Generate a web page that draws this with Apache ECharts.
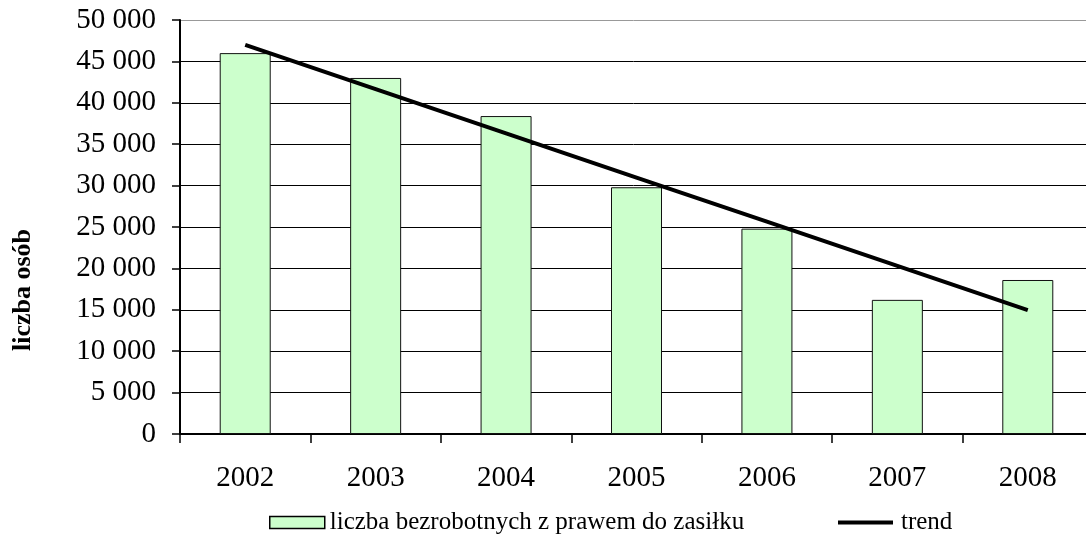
<!DOCTYPE html>
<html><head><meta charset="utf-8">
<script src="https://cdn.jsdelivr.net/npm/echarts@6/dist/echarts.min.js"></script>
<style>html,body{margin:0;padding:0;background:#fff}#c{width:1086px;height:536px}</style>
</head><body><div id="c"></div>
<script>
var categories = ['2002','2003','2004','2005','2006','2007','2008'];
var unemployed = [46000, 43000, 38400, 29800, 24800, 16200, 18600];
var trend = [47000, 41650, 36300, 30970, 25640, 20300, 14960];
var yTicks = {min: 0, max: 50000, interval: 5000};
var seriesNames = ['liczba bezrobotnych z prawem do zasiłku', 'trend'];
var yTitle = 'liczba osób';

var FONT = 'Liberation Serif';
function fmt(v){ return String(v).replace(/\B(?=(\d{3})+(?!\d))/g, ' '); }
var gridColors = [];
for (var i = 0; i < 10; i++) gridColors.push('#000');
gridColors.push('#999');

var chart = echarts.init(document.getElementById('c'), null, {renderer: 'canvas'});
chart.setOption({
  animation: false,
  backgroundColor: '#fff',
  grid: {left: 180, top: 20, width: 913, height: 414, containLabel: false, outerBoundsMode: 'none'},
  legend: [{
    data: [{name: seriesNames[0], icon: 'rect'}], left: 264, top: 505, itemWidth: 55, itemHeight: 12, itemGap: 8,
    itemStyle: {borderColor: '#000', borderWidth: 1.5},
    textStyle: {fontFamily: FONT, fontSize: 25, color: '#000'}
  }, {
    data: [{name: seriesNames[1], icon: 'rect'}], left: 833, top: 505, itemWidth: 55, itemHeight: 4, itemGap: 9,
    textStyle: {fontFamily: FONT, fontSize: 25, color: '#000', padding: [0, 0, 0, 3]}
  }],
  xAxis: {
    type: 'category', data: categories, boundaryGap: true,
    axisLine: {lineStyle: {color: '#000', width: 2}},
    axisTick: {show: true, length: 9, lineStyle: {color: '#000', width: 1.5}},
    axisLabel: {fontFamily: FONT, fontSize: 29, color: '#000', margin: 30},
    splitLine: {show: false}
  },
  yAxis: {
    type: 'value', min: yTicks.min, max: yTicks.max, interval: yTicks.interval,
    name: yTitle, nameLocation: 'middle', nameGap: 144,
    nameTextStyle: {fontFamily: FONT, fontSize: 26, fontWeight: 'bold', color: '#000', padding: [0, 126, 0, 0]},
    axisLine: {show: true, lineStyle: {color: '#000', width: 2}},
    axisTick: {show: true, length: 8, lineStyle: {color: '#000', width: 1.5}},
    axisLabel: {fontFamily: FONT, fontSize: 29, color: '#000', margin: 24, formatter: fmt},
    splitLine: {show: true, lineStyle: {color: gridColors, width: 1}}
  },
  series: [{
    name: seriesNames[0], type: 'bar', data: unemployed, barWidth: 51,
    itemStyle: {color: '#ccffcc', borderColor: '#111', borderWidth: 1}
  }, {
    name: seriesNames[1], type: 'line', data: trend, symbol: 'none',
    lineStyle: {color: '#000', width: 4}, itemStyle: {color: '#000'}
  }]
});
</script></body></html>
